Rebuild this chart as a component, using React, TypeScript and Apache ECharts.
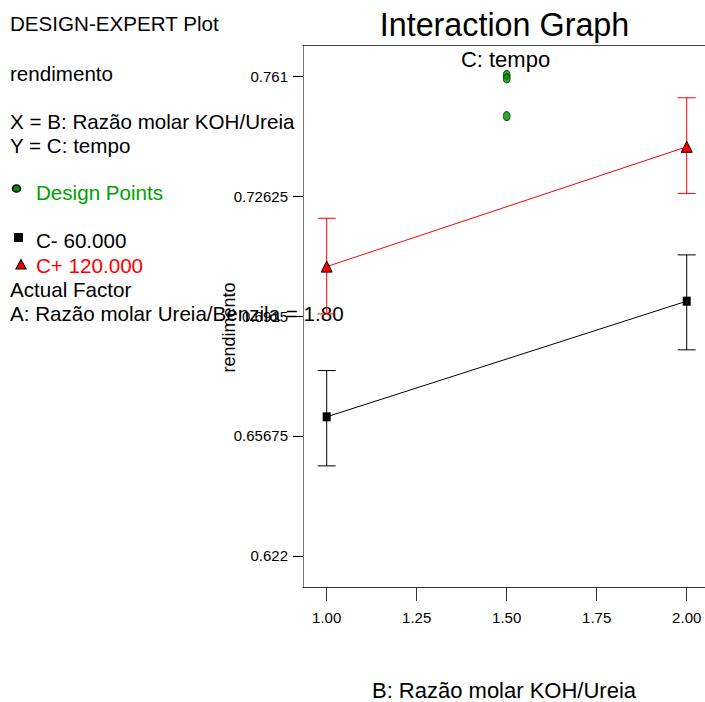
import React, { useEffect, useRef } from "react";
import * as echarts from "echarts";

const xTicks = [1.0, 1.25, 1.5, 1.75, 2.0];
const yTicks = [0.622, 0.65675, 0.6915, 0.72625, 0.761];
const factorB = [1.0, 2.0];
const lowMeans = [0.6623, 0.6958];
const lowLower = [0.6481, 0.6817];
const lowUpper = [0.6757, 0.7092];
const highMeans = [0.7058, 0.7405];
const highLower = [0.6921, 0.727];
const highUpper = [0.7198, 0.7547];
const designX = [1.5, 1.5, 1.5];
const designY = [0.7613, 0.7603, 0.7494];

const xMin = 0.9342;
const xMax = 2.0508;
const yMin = 0.61302;
const yMax = 0.76998;

const FONT = "'Liberation Sans', Arial, sans-serif";

function errorSeries(name: string, lower: number[], upper: number[], color: string) {
  return {
    type: "custom",
    name,
    data: factorB.map((x, i) => [x, lower[i], upper[i]]),
    renderItem: (_params: any, api: any) => {
      const x = api.value(0);
      const pLo = api.coord([x, api.value(1)]);
      const pHi = api.coord([x, api.value(2)]);
      const hw = 9;
      const st = { stroke: color, lineWidth: 1 };
      return {
        type: "group",
        children: [
          { type: "line", shape: { x1: pLo[0], y1: pLo[1], x2: pHi[0], y2: pHi[1] }, style: st },
          { type: "line", shape: { x1: pLo[0] - hw, y1: pLo[1], x2: pLo[0] + hw, y2: pLo[1] }, style: st },
          { type: "line", shape: { x1: pHi[0] - hw, y1: pHi[1], x2: pHi[0] + hw, y2: pHi[1] }, style: st },
        ],
      };
    },
    z: 2,
  };
}

export default function App() {
  const ref = useRef<HTMLDivElement>(null);
  useEffect(() => {
    if (!ref.current) return;
    const chart = echarts.init(ref.current, null, { renderer: "svg" });
    const leftText = (text: string, x: number, y: number, fill = "#000") => ({
      type: "text",
      x,
      y,
      style: { text, fill, font: `20.6px ${FONT}`, verticalAlign: "middle" },
    });
    chart.setOption({
      animation: false,
      backgroundColor: "#fff",
      grid: { left: 303, top: 45, right: 0, bottom: 115, outerBoundsMode: "none", containLabel: false },
      xAxis: [
        {
          type: "value",
          min: xMin,
          max: xMax,
          name: "B: Razão molar KOH/Ureia",
          nameLocation: "middle",
          nameGap: 92,
          nameTextStyle: { fontFamily: FONT, fontSize: 22, color: "#000" },
          axisLine: { show: true, onZero: false, lineStyle: { color: "#333", width: 1 } },
          axisTick: { show: true, length: 14, customValues: xTicks, lineStyle: { color: "#333" } },
          axisLabel: {
            customValues: xTicks,
            margin: 23,
            fontFamily: FONT,
            fontSize: 15,
            color: "#000",
            formatter: (v: number) => v.toFixed(2),
          },
          splitLine: { show: false },
        },
        {
          type: "value",
          position: "top",
          min: xMin,
          max: xMax,
          axisLine: { show: true, onZero: false, lineStyle: { color: "#444", width: 1 } },
          axisTick: { show: false },
          axisLabel: { show: false },
          splitLine: { show: false },
        },
      ],
      yAxis: {
        type: "value",
        min: yMin,
        max: yMax,
        axisLine: { show: true, onZero: false, lineStyle: { color: "#777", width: 1 } },
        axisTick: { show: true, length: 10, customValues: yTicks, lineStyle: { color: "#000" } },
        axisLabel: {
          customValues: yTicks,
          margin: 15,
          fontFamily: FONT,
          fontSize: 15,
          color: "#000",
          formatter: (v: number) => String(v),
        },
        splitLine: { show: false },
      },
      series: [
        errorSeries("C- error", lowLower, lowUpper, "#000"),
        errorSeries("C+ error", highLower, highUpper, "#ff0000"),
        {
          type: "line",
          name: "C- 60.000",
          data: factorB.map((x, i) => [x, lowMeans[i]]),
          lineStyle: { color: "#000", width: 1 },
          itemStyle: { color: "#000" },
          symbol: "rect",
          symbolSize: [8, 9],
          z: 3,
        },
        {
          type: "line",
          name: "C+ 120.000",
          data: factorB.map((x, i) => [x, highMeans[i]]),
          lineStyle: { color: "#ff0000", width: 1 },
          itemStyle: { color: "#ff0000", borderColor: "#000", borderWidth: 1 },
          symbol: "triangle",
          symbolSize: [11, 11],
          z: 3,
        },
        {
          type: "scatter",
          name: "Design Points",
          data: designX.map((x, i) => [x, designY[i]]),
          symbol: "circle",
          symbolSize: [7, 9],
          itemStyle: { color: "#009000", borderColor: "#003300", borderWidth: 1 },
          z: 4,
        },
      ],
      graphic: [
        {
          type: "text",
          x: 504.5,
          y: 25,
          style: { text: "Interaction Graph", fill: "#000", font: `32.3px ${FONT}`, align: "center", verticalAlign: "middle" },
        },
        {
          type: "text",
          x: 505.5,
          y: 59,
          style: { text: "C: tempo", fill: "#000", font: `22px ${FONT}`, align: "center", verticalAlign: "middle" },
        },
        {
          type: "text",
          x: 229,
          y: 327.5,
          rotation: Math.PI / 2,
          style: { text: "rendimento", fill: "#000", font: `18px ${FONT}`, align: "center", verticalAlign: "middle" },
        },
        leftText("DESIGN-EXPERT Plot", 10, 23.5),
        leftText("rendimento", 10, 73),
        leftText("X = B: Razão molar KOH/Ureia", 10, 121),
        leftText("Y = C: tempo", 10, 145),
        { type: "ellipse", shape: { cx: 16.5, cy: 188.5, rx: 4, ry: 3.5 }, style: { fill: "#009000", stroke: "#000", lineWidth: 1.5 } },
        leftText("Design Points", 36, 192, "#00a000"),
        { type: "rect", shape: { x: 14, y: 233, width: 9, height: 9 }, style: { fill: "#000" } },
        leftText("C- 60.000", 36, 240),
        { type: "polygon", shape: { points: [[21, 259.5], [16, 269], [26, 269]] }, style: { fill: "#ff0000", stroke: "#000", lineWidth: 1.2 } },
        leftText("C+ 120.000", 36, 265.5, "#ff0000"),
        leftText("Actual Factor", 10, 289),
        leftText("A: Razão molar Ureia/Benzila = 1.80", 10, 313),
      ],
    });
    return () => chart.dispose();
  }, []);
  return <div ref={ref} style={{ position: "absolute", left: 0, top: 0, width: 705, height: 702 }} />;
}
